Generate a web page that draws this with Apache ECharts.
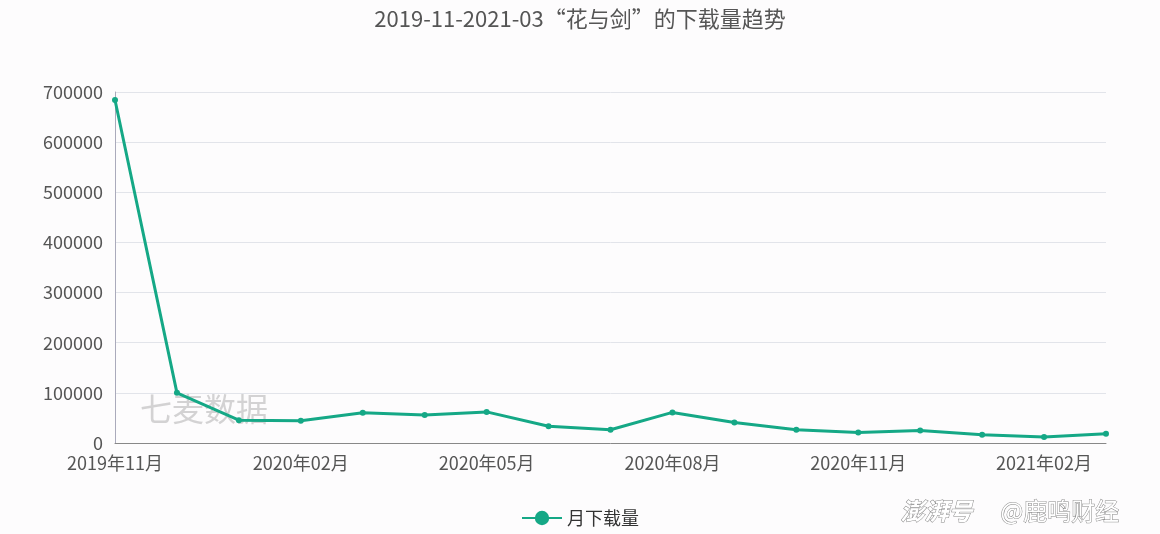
<!DOCTYPE html>
<html>
<head>
<meta charset="utf-8">
<script src="https://cdn.jsdelivr.net/npm/echarts@6/dist/echarts.min.js"></script>
<style>
html,body{margin:0;padding:0;background:#fdfcfd;}
#main{width:1160px;height:534px;}
</style>
</head>
<body>
<div id="main"></div>
<script>
var categories = ['2019年11月','2019年12月','2020年01月','2020年02月','2020年03月','2020年04月','2020年05月','2020年06月','2020年07月','2020年08月','2020年09月','2020年10月','2020年11月','2020年12月','2021年01月','2021年02月','2021年03月'];
var downloads = [684000, 100000, 45500, 44500, 60500, 56000, 62000, 33500, 26500, 61000, 41000, 26500, 21000, 25000, 16500, 12000, 18500];
var yTicks = [0, 100000, 200000, 300000, 400000, 500000, 600000, 700000];
var seriesName = '月下载量';
var titleText = '2019-11-2021-03“花与剑”的下载量趋势';

var chart = echarts.init(document.getElementById('main'));
var font = '"Noto Sans CJK SC", "Noto Sans", sans-serif';
chart.setOption({
  backgroundColor: '#fdfcfd',
  textStyle: {fontFamily: font},
  title: {
    text: titleText, left: 'center', top: 3,
    textStyle: {color: '#555', fontSize: 22, fontWeight: 'normal', fontFamily: font}
  },
  legend: {
    data: [seriesName], bottom: 2, left: 'center',
    itemWidth: 40, itemHeight: 18,
    textStyle: {color: '#333', fontSize: 18, fontFamily: font}
  },
  grid: {left: 115, right: 54, top: 92, bottom: 91},
  xAxis: {
    type: 'category', data: categories, boundaryGap: false,
    axisLine: {lineStyle: {color: '#888'}},
    axisTick: {show: false},
    axisLabel: {interval: 2, color: '#555', fontSize: 18, margin: 11, fontFamily: font}
  },
  yAxis: {
    type: 'value', min: yTicks[0], max: yTicks[yTicks.length - 1], interval: 100000,
    axisLine: {show: true, lineStyle: {color: '#aab'}},
    axisTick: {show: false},
    splitLine: {lineStyle: {color: '#e2e4ea'}},
    axisLabel: {color: '#555', fontSize: 18, margin: 12, fontFamily: font,
      formatter: function (v) { return String(v); }}
  },
  series: [{
    name: seriesName, type: 'line', data: downloads,
    symbol: 'circle', symbolSize: 6,
    lineStyle: {color: '#15a886', width: 3},
    itemStyle: {color: '#15a886'}
  }],
  graphic: [
    {type: 'text', left: 140, top: 393, silent: true,
     style: {text: '七麦数据', fill: 'rgba(160,160,160,0.45)', font: '32px ' + font}},
    {type: 'text', left: 900, top: 498, silent: true,
     style: {text: '澎湃号', fill: '#fff', stroke: '#888', lineWidth: 1, font: 'italic bold 24px ' + font}},
    {type: 'text', left: 1000, top: 498, silent: true,
     style: {text: '@鹿鸣财经', fill: '#fff', stroke: '#888', lineWidth: 1, font: '24px ' + font}}
  ]
});
</script>
</body>
</html>
